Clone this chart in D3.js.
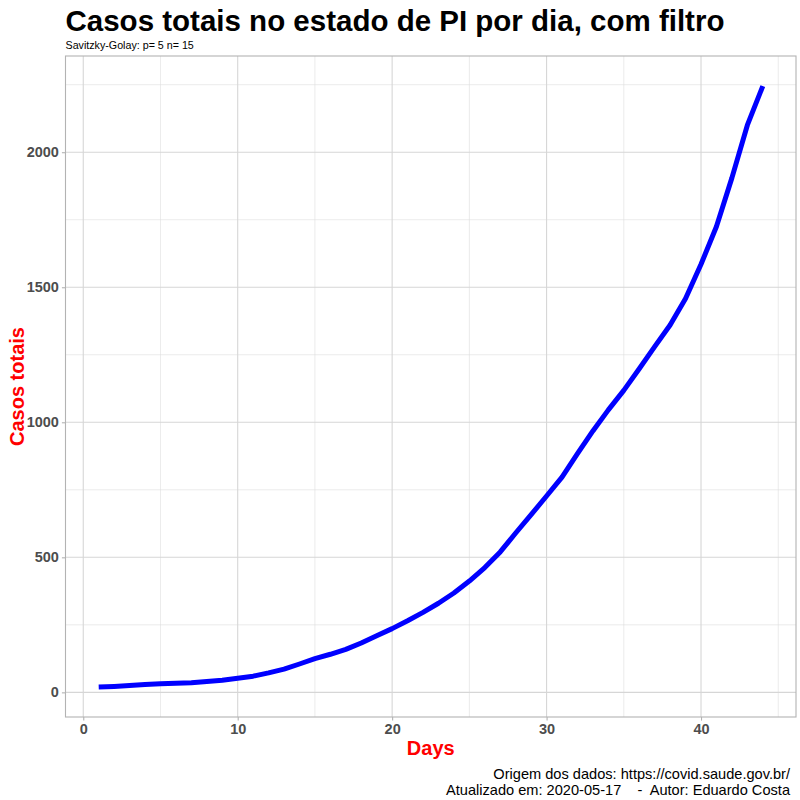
<!DOCTYPE html>
<html><head><meta charset="utf-8">
<script src="https://cdn.jsdelivr.net/npm/d3@7"></script>
<style>body{margin:0;background:#fff}svg{display:block;font-family:"Liberation Sans",Arial,sans-serif}</style>
</head><body><svg id="c" width="800" height="800"></svg>
<script>
const days = d3.range(1, 45);
const casos = [20,22,25,29,32,34,36,40,45,52,60,72,86,105,125,141,159,183,210,236,265,296,330,368,412,462,520,590,658,727,797,884,968,1046,1118,1198,1280,1360,1458,1585,1725,1905,2100,2245];
const xTicks = [0,10,20,30,40];
const xMinor = [5,15,25,35,45];
const yTicks = [0,500,1000,1500,2000];
const yMinor = [250,750,1250,1750,2250];
const title = "Casos totais no estado de PI por dia, com filtro";
const subtitle = "Savitzky-Golay: p= 5 n= 15";
const xLabel = "Days", yLabel = "Casos totais";
const caption = ["Origem dos dados: https://covid.saude.gov.br/", "Atualizado em: 2020-05-17    -  Autor: Eduardo Costa"];

const svg = d3.select("#c");
const L = 65.5, R = 796, T = 56, B = 717;
const xr = d3.extent(days), yr = d3.extent(casos);
const xp = (xr[1]-xr[0])*0.05, yp = (yr[1]-yr[0])*0.05;
const x = d3.scaleLinear().domain([xr[0]-xp, xr[1]+xp]).range([L, R]);
const y = d3.scaleLinear().domain([yr[0]-yp, yr[1]+yp]).range([B, T]);

const grid = svg.append("g");
grid.selectAll(".xm").data(xMinor).join("line").attr("x1", d=>x(d)).attr("x2", d=>x(d)).attr("y1", T).attr("y2", B).attr("stroke", "#dedede").attr("stroke-width", 0.6);
grid.selectAll(".ym").data(yMinor).join("line").attr("y1", d=>y(d)).attr("y2", d=>y(d)).attr("x1", L).attr("x2", R).attr("stroke", "#dedede").attr("stroke-width", 0.6);
grid.selectAll(".xM").data(xTicks).join("line").attr("x1", d=>x(d)).attr("x2", d=>x(d)).attr("y1", T).attr("y2", B).attr("stroke", "#d6d6d6").attr("stroke-width", 1.1);
grid.selectAll(".yM").data(yTicks).join("line").attr("y1", d=>y(d)).attr("y2", d=>y(d)).attr("x1", L).attr("x2", R).attr("stroke", "#d6d6d6").attr("stroke-width", 1.1);

svg.append("path").datum(days.map((d,i)=>[d, casos[i]]))
  .attr("d", d3.line().x(d=>x(d[0])).y(d=>y(d[1])))
  .attr("fill", "none").attr("stroke", "#0000ff").attr("stroke-width", 5).attr("stroke-linejoin", "round");

svg.append("rect").attr("x", L).attr("y", T).attr("width", R-L).attr("height", B-T).attr("fill", "none").attr("stroke", "#b3b3b3").attr("stroke-width", 1.1);

const xAxis = svg.append("g").attr("transform", `translate(0,${B})`)
  .call(d3.axisBottom(x).tickValues(xTicks).tickFormat(d3.format("d")).tickSize(3.6).tickPadding(3));
const yAxis = svg.append("g").attr("transform", `translate(${L},0)`)
  .call(d3.axisLeft(y).tickValues(yTicks).tickFormat(d3.format("d")).tickSize(3.6).tickPadding(3));
[xAxis, yAxis].forEach(a => {
  a.select(".domain").remove();
  a.selectAll(".tick line").attr("stroke", "#b3b3b3").attr("stroke-width", 1.1);
  a.selectAll(".tick text").attr("fill", "#4d4d4d").attr("font-size", 14.5).attr("font-weight", "bold").attr("font-family", "Liberation Sans, Arial, sans-serif");
});

svg.append("text").attr("x", L).attr("y", 31).attr("font-size", 29.5).attr("font-weight", "bold").attr("fill", "#000").text(title);
svg.append("text").attr("x", L).attr("y", 49).attr("font-size", 10.7).attr("fill", "#000").text(subtitle);
svg.append("text").attr("x", (L+R)/2).attr("y", 755).attr("text-anchor", "middle").attr("font-size", 20).attr("font-weight", "bold").attr("fill", "#ff0000").text(xLabel);
svg.append("text").attr("transform", `translate(17,${(T+B)/2}) rotate(-90)`).attr("text-anchor", "middle").attr("dy", "0.35em").attr("font-size", 20).attr("font-weight", "bold").attr("fill", "#ff0000").text(yLabel);
svg.selectAll(".cap").data(caption).join("text").attr("x", 790).attr("y", (d,i)=>779+i*16)
  .attr("text-anchor", "end").attr("font-size", 14.6).attr("fill", "#000").style("white-space", "pre").text(d=>d);
</script></body></html>
